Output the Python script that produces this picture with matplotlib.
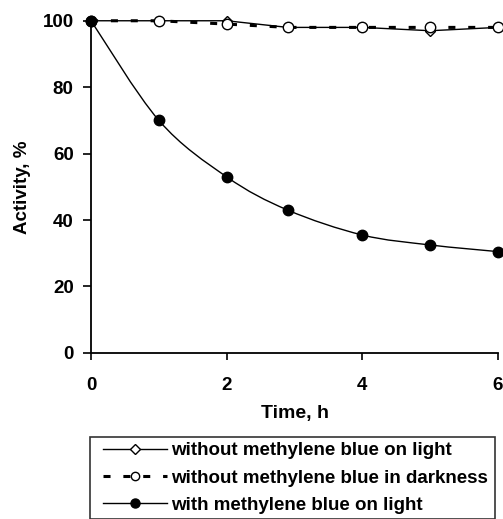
import matplotlib
matplotlib.use("Agg")
import matplotlib.pyplot as plt
from matplotlib.path import Path
from matplotlib.patches import PathPatch
from matplotlib.lines import Line2D
from matplotlib.legend_handler import HandlerLine2D
import numpy as np

plt.rcParams["font.family"] = ["Liberation Sans", "DejaVu Sans"]
plt.rcParams["font.weight"] = "bold"

# ── Data ──────────────────────────────────────────────────────────────────────
time_h      = [0, 1, 2, 2.9, 4, 5, 6]
light_no_mb = [100, 100, 100, 98, 98, 97, 98]
dark_no_mb  = [100, 100, 99, 98, 98, 98, 98]
light_mb    = [100, 70, 53, 43, 35.5, 32.5, 30.5]

labels = [
    "without methylene blue on light",
    "without methylene blue in darkness",
    "with methylene blue on light",
]

FS = 13.5
DASH = (0, (2.3, 4.2))


def smooth_path(xs, ys, t=1 / 6):
    # Catmull-Rom style bezier path through the points (Excel "smoothed line")
    pts = np.column_stack([xs, ys]).astype(float)
    verts = [pts[0]]
    codes = [Path.MOVETO]
    n = len(pts)
    for i in range(n - 1):
        p0 = pts[i - 1] if i > 0 else pts[i]
        p1, p2 = pts[i], pts[i + 1]
        p3 = pts[i + 2] if i + 2 < n else pts[i + 1]
        c1 = p1 + (p2 - p0) * t
        c2 = p2 - (p3 - p1) * t
        verts += [c1, c2, p2]
        codes += [Path.CURVE4] * 3
    return Path(verts, codes)


fig = plt.figure(figsize=(5.03, 5.19), dpi=100, facecolor="white")
ax = fig.add_axes([0.181, 0.320, 0.809, 0.640])

ax.plot(time_h, light_no_mb, color="black", lw=1.0, marker="D", ms=5.5,
        mfc="white", mec="black", mew=1.0, zorder=3, clip_on=False)
ax.plot(time_h, dark_no_mb, color="black", lw=2.2, ls=DASH,
        marker="o", ms=7.5, mfc="white", mec="black", mew=1.0, zorder=4,
        clip_on=False)

ax.add_patch(PathPatch(smooth_path(time_h, light_mb), fill=False,
                       edgecolor="black", lw=1.0, zorder=5))
ax.plot(time_h, light_mb, ls="none", marker="o", ms=7.5,
        mfc="black", mec="black", zorder=6, clip_on=False)

ax.set_xlim(0, 6)
ax.set_ylim(0, 100)
ax.set_xticks([0, 2, 4, 6])
ax.set_yticks([0, 20, 40, 60, 80, 100])
for side in ("top", "right"):
    ax.spines[side].set_visible(False)
for side in ("left", "bottom"):
    ax.spines[side].set_linewidth(1.3)
ax.tick_params(axis="x", direction="out", length=5, width=1.2,
               labelsize=FS, pad=12)
ax.tick_params(axis="y", direction="out", length=5.5, width=1.2,
               labelsize=FS, pad=7)
for lab in ax.get_xticklabels() + ax.get_yticklabels():
    lab.set_fontweight("bold")
ax.set_xlabel("Time, h", fontsize=14, fontweight="bold", labelpad=8)
ax.set_ylabel("Activity, %", fontsize=FS, fontweight="bold", labelpad=8)

handles = [
    Line2D([], [], color="black", lw=1.0, marker="D", ms=5,
           mfc="white", mec="black"),
    Line2D([], [], color="black", lw=2.2, ls=DASH, marker="o",
           ms=6, mfc="white", mec="black", mew=1.0),
    Line2D([], [], color="black", lw=1.0, marker="o", ms=6.5,
           mfc="black", mec="black"),
]
leg = fig.legend(handles, labels, loc="upper left",
                 bbox_to_anchor=(0.179, 0.0, 0.805, 0.158), mode="expand",
                 frameon=True, fancybox=False, edgecolor="black",
                 prop={"size": FS, "weight": "bold"}, handlelength=3.84,
                 handletextpad=0.23, labelspacing=0.55, borderpad=0.27,
                 borderaxespad=0,
                 handler_map={Line2D: HandlerLine2D(xpad=0.43)})
leg.get_frame().set_linewidth(1.2)

fig.savefig("out.png", dpi=100, facecolor="white")
